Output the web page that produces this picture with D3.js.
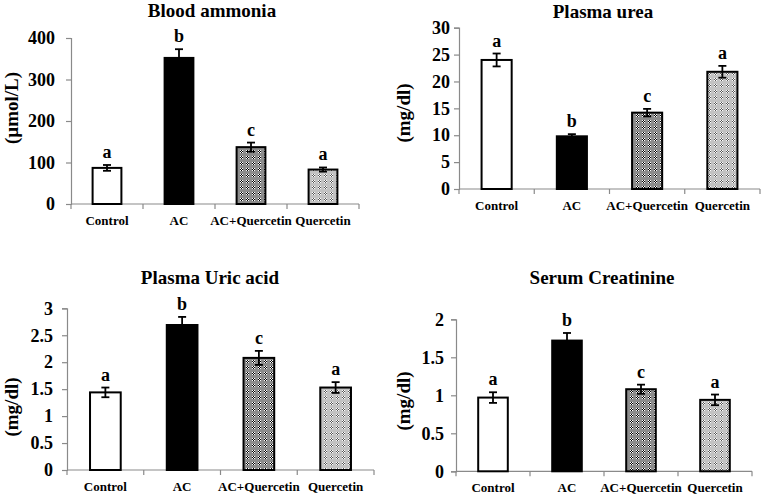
<!DOCTYPE html>
<html>
<head>
<meta charset="utf-8">
<script src="https://cdn.jsdelivr.net/npm/d3@7"></script>
<style>
  body { margin: 0; background: #fff; }
  svg { display: block; font-family: "Liberation Serif", "Times New Roman", serif; font-weight: bold; }
</style>
</head>
<body>
<svg id="chart" width="762" height="495"></svg>
<script>
// ---------- data ----------
const categories = ["Control", "AC", "AC+Quercetin", "Quercetin"];
const titles = ["Blood ammonia", "Plasma urea", "Plasma Uric acid", "Serum Creatinine"];
const yLabels = ["(\u00b5mol/L)", "(mg/dl)", "(mg/dl)", "(mg/dl)"];

const ammoniaValues = [87, 352, 137, 83];
const ammoniaErrors = [7, 21, 11, 5];
const ammoniaLetters = ["a", "b", "c", "a"];
const ammoniaTicks = [0, 100, 200, 300, 400];

const ureaValues = [24.0, 9.8, 14.2, 21.8];
const ureaErrors = [1.2, 0.4, 0.7, 1.1];
const ureaLetters = ["a", "b", "c", "a"];
const ureaTicks = [0, 5, 10, 15, 20, 25, 30];

const uricValues = [1.44, 2.69, 2.08, 1.53];
const uricErrors = [0.09, 0.15, 0.13, 0.10];
const uricLetters = ["a", "b", "c", "a"];
const uricTicks = [0, 0.5, 1, 1.5, 2, 2.5, 3];

const creatValues = [0.97, 1.72, 1.08, 0.94];
const creatErrors = [0.07, 0.10, 0.06, 0.07];
const creatLetters = ["a", "b", "c", "a"];
const creatTicks = [0, 0.5, 1, 1.5, 2];

// ---------- layout (positions only) ----------
const panels = [
  { values: ammoniaValues, errors: ammoniaErrors, letters: ammoniaLetters, ticks: ammoniaTicks,
    x0: 71, x1: 359, yTop: 38, yBot: 204, pad: 11, titleX: 212, titleY: 17, ylabX: 12, ylabY: 108 },
  { values: ureaValues, errors: ureaErrors, letters: ureaLetters, ticks: ureaTicks,
    x0: 459, x1: 760, yTop: 27.7, yBot: 189, pad: 4, titleX: 603, titleY: 18, ylabX: 404, ylabY: 113 },
  { values: uricValues, errors: uricErrors, letters: uricLetters, ticks: uricTicks,
    x0: 67, x1: 374, yTop: 308.3, yBot: 470, pad: 9, titleX: 210, titleY: 284, ylabX: 12, ylabY: 407 },
  { values: creatValues, errors: creatErrors, letters: creatLetters, ticks: creatTicks,
    x0: 456, x1: 752, yTop: 319.3, yBot: 471.3, pad: 7, titleX: 602, titleY: 284, ylabX: 404, ylabY: 401 }
];

const svg = d3.select("#chart");
svg.append("rect").attr("width", 762).attr("height", 495).attr("fill", "#fff");

// ---------- patterns ----------
const defs = svg.append("defs");
function makePattern(id, base, light, dark) {
  const p = defs.append("pattern").attr("id", id).attr("patternUnits", "userSpaceOnUse")
    .attr("width", 6).attr("height", 6);
  p.append("rect").attr("width", 6).attr("height", 6).attr("fill", base);
  const cells = [[0,0,light],[1,0,dark],[2,0,light],[0,1,dark],[1,1,light],[2,1,dark],[0,2,light],[1,2,dark],[2,2,light]];
  cells.forEach(([cx, cy, c]) => {
    p.append("rect").attr("x", cx).attr("y", cy).attr("width", 1).attr("height", 1).attr("fill", c);
  });
}
makePattern("patDark", "#8c8c8c", "#ffffff", "#000000");
makePattern("patLight", "#c2c2c2", "#ffffff", "#555555");
const fills = ["#ffffff", "#000000", "url(#patDark)", "url(#patLight)"];

panels.forEach((pn, pi) => {
  const g = svg.append("g");
  const x = d3.scaleBand().domain(categories).range([pn.x0, pn.x1]).paddingInner(0.6).paddingOuter(0.3);
  const y = d3.scaleLinear().domain([pn.ticks[0], pn.ticks[pn.ticks.length - 1]]).range([pn.yBot, pn.yTop]);

  // y axis
  const yAxis = d3.axisLeft(y).tickValues(pn.ticks).tickSize(5).tickPadding(pn.pad).tickFormat(d => String(d));
  const ya = g.append("g").attr("transform", `translate(${pn.x0},0)`).call(yAxis)
    .attr("font-family", null).attr("font-size", null);
  ya.select(".domain").attr("stroke", "#8a8a8a").attr("stroke-width", 1.2);
  ya.selectAll(".tick line").attr("stroke", "#8a8a8a").attr("stroke-width", 1.2);
  ya.selectAll(".tick text").attr("font-size", 18).attr("fill", "#000");

  // x axis baseline with boundary ticks
  const bounds = d3.range(categories.length + 1).map(i => pn.x0 + i * (pn.x1 - pn.x0) / categories.length);
  g.append("line").attr("x1", pn.x0).attr("x2", pn.x1).attr("y1", y(0)).attr("y2", y(0))
    .attr("stroke", "#8a8a8a").attr("stroke-width", 1.2);
  g.selectAll(".xt").data(bounds).enter().append("line")
    .attr("x1", d => d).attr("x2", d => d).attr("y1", y(0)).attr("y2", y(0) + 5)
    .attr("stroke", "#8a8a8a").attr("stroke-width", 1.2);
  g.selectAll(".xl").data(categories).enter().append("text")
    .attr("x", d => x(d) + x.bandwidth() / 2).attr("y", y(0) + 21)
    .attr("text-anchor", "middle").attr("font-size", 13).text(d => d);

  // bars
  g.selectAll(".bar").data(pn.values).enter().append("rect")
    .attr("x", (d, i) => x(categories[i])).attr("width", x.bandwidth())
    .attr("y", d => y(d)).attr("height", d => y(0) - y(d))
    .attr("fill", (d, i) => fills[i]).attr("stroke", "#000").attr("stroke-width", 2);

  // error bars
  const eb = g.selectAll(".eb").data(pn.values).enter().append("g");
  eb.append("line")
    .attr("x1", (d, i) => x(categories[i]) + x.bandwidth() / 2)
    .attr("x2", (d, i) => x(categories[i]) + x.bandwidth() / 2)
    .attr("y1", (d, i) => y(d - pn.errors[i])).attr("y2", (d, i) => y(d + pn.errors[i]))
    .attr("stroke", "#000").attr("stroke-width", 1.8);
  [1, -1].forEach(s => {
    eb.append("line")
      .attr("x1", (d, i) => x(categories[i]) + x.bandwidth() / 2 - 4)
      .attr("x2", (d, i) => x(categories[i]) + x.bandwidth() / 2 + 4)
      .attr("y1", (d, i) => y(d + s * pn.errors[i])).attr("y2", (d, i) => y(d + s * pn.errors[i]))
      .attr("stroke", "#000").attr("stroke-width", 1.8);
  });

  // letters
  g.selectAll(".let").data(pn.values).enter().append("text")
    .attr("x", (d, i) => x(categories[i]) + x.bandwidth() / 2)
    .attr("y", (d, i) => y(d + pn.errors[i]) - 7)
    .attr("text-anchor", "middle").attr("font-size", 18)
    .text((d, i) => pn.letters[i]);

  // title
  g.append("text").attr("x", pn.titleX).attr("y", pn.titleY).attr("text-anchor", "middle")
    .attr("font-size", 19).text(titles[pi]);

  // y label
  g.append("text").attr("transform", `translate(${pn.ylabX},${pn.ylabY}) rotate(-90)`)
    .attr("text-anchor", "middle").attr("dy", "0.32em").attr("font-size", 19).text(yLabels[pi]);
});
</script>
</body>
</html>
